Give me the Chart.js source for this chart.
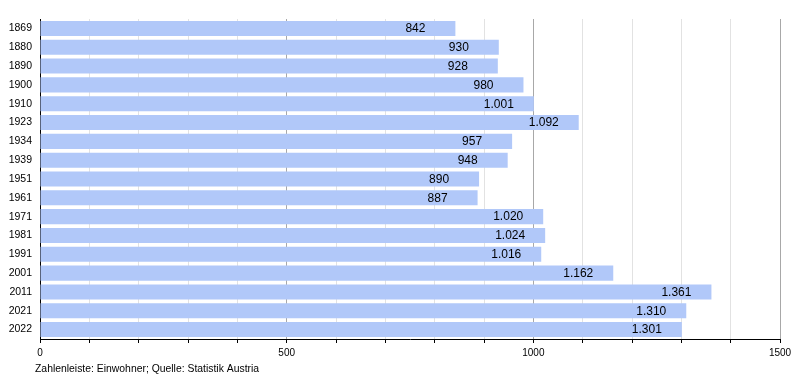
<!DOCTYPE html>
<html>
<head>
<meta charset="utf-8">
<script src="https://cdn.jsdelivr.net/npm/chart.js@4/dist/chart.umd.min.js"></script>
<style>
  html, body { margin: 0; padding: 0; background: #fff; }
  #wrap { width: 800px; height: 380px; position: relative; }
</style>
</head>
<body>
<div id="wrap"><canvas id="chart"></canvas></div>
<script>
const years = ["1869", "1880", "1890", "1900", "1910", "1923", "1934", "1939", "1951",
  "1961", "1971", "1981", "1991", "2001", "2011", "2021", "2022"];
const inhabitants = [842, 930, 928, 980, 1001, 1092, 957, 948, 890, 887, 1020, 1024,
  1016, 1162, 1361, 1310, 1301];
const xTickLabels = [0, 500, 1000, 1500];
const footerText = "Zahlenleiste: Einwohner; Quelle: Statistik Austria";

const fontFamily = "'Liberation Sans', Arial, sans-serif";

function formatDE(n) {
  return n.toString().replace(/\B(?=(\d{3})+(?!\d))/g, ".");
}

// value labels inside the bars + footer line
const labelPlugin = {
  id: "labels",
  afterDatasetsDraw(chart) {
    const ctx = chart.ctx;
    const meta = chart.getDatasetMeta(0);
    ctx.save();
    ctx.font = "12px " + fontFamily;
    ctx.fillStyle = "#000";
    ctx.textAlign = "left";
    ctx.textBaseline = "middle";
    meta.data.forEach((bar, i) => {
      ctx.fillText(formatDE(inhabitants[i]), bar.x - 50, bar.y + 0.5);
    });
    ctx.font = "10.4px " + fontFamily;
    ctx.textBaseline = "middle";
    ctx.fillText(footerText, 35, 369);
    ctx.restore();
  },
};

new Chart(document.getElementById("chart"), {
  type: "bar",
  data: {
    labels: years,
    datasets: [
      {
        data: inhabitants,
        backgroundColor: "#b1c8f9",
        borderWidth: 0,
        categoryPercentage: 0.8,
        barPercentage: 1,
      },
    ],
  },
  options: {
    indexAxis: "y",
    responsive: true,
    maintainAspectRatio: false,
    animation: false,
    layout: { padding: { top: 19, right: 20, left: 0, bottom: 0 } },
    plugins: {
      legend: { display: false },
      tooltip: { enabled: false },
    },
    scales: {
      x: {
        min: 0,
        max: 1500,
        afterFit: (scale) => { scale.height = 41; },
        ticks: {
          stepSize: 100,
          autoSkip: false,
          maxRotation: 0,
          padding: 4,
          color: "#000",
          font: { family: fontFamily, size: 10 },
          callback: (v) => (xTickLabels.includes(v) ? String(v) : ""),
        },
        grid: {
          color: (c) => (c.tick && c.tick.value % 500 === 0 ? "#a8a8a8" : "#e2e2e2"),
          tickColor: "#000",
          tickLength: 4,
        },
        border: { color: "#000", width: 1 },
      },
      y: {
        afterFit: (scale) => { scale.width = 40; },
        ticks: {
          padding: 8,
          color: "#000",
          font: { family: fontFamily, size: 10.5 },
        },
        grid: { display: false, drawTicks: false },
        border: { color: "#000", width: 1 },
      },
    },
  },
  plugins: [labelPlugin],
});
</script>
</body>
</html>
